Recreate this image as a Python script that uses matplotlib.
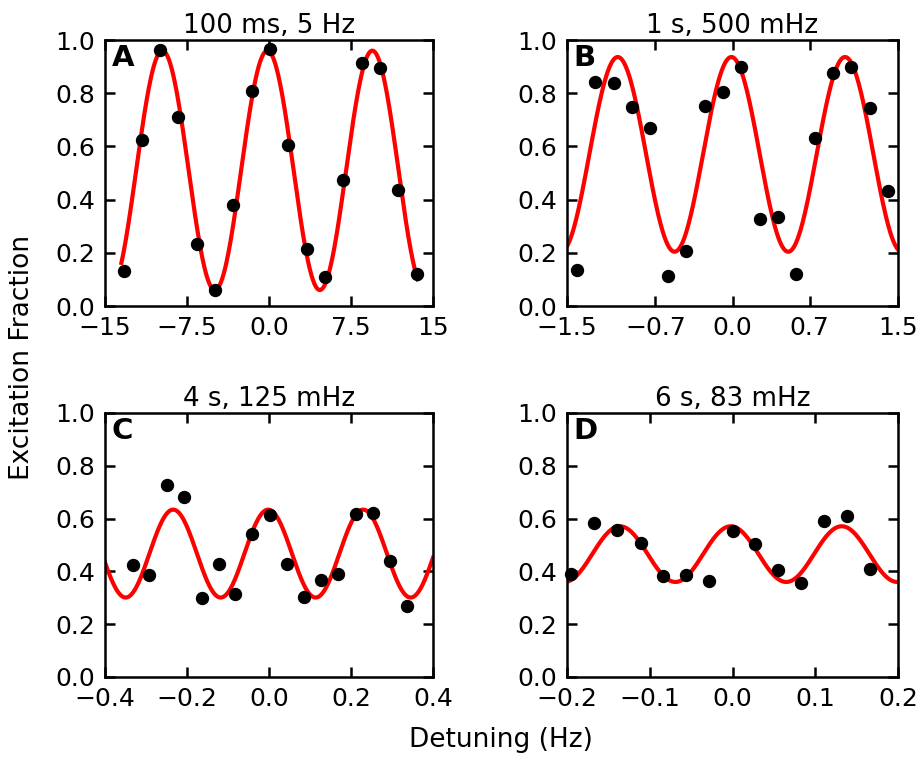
import numpy as np
import matplotlib
matplotlib.use("Agg")
import matplotlib.pyplot as plt

# panel A: 100 ms, 5 Hz
a_x = [-13.3, -11.64, -9.97, -8.29, -6.61, -4.94, -3.26, -1.58, 0.1,
       1.77, 3.45, 5.13, 6.8, 8.48, 10.16, 11.84, 13.52]
a_y = [0.133, 0.624, 0.962, 0.712, 0.233, 0.06, 0.38, 0.808, 0.967,
       0.605, 0.214, 0.108, 0.474, 0.912, 0.893, 0.436, 0.12]

# panel B: 1 s, 500 mHz
b_x = [-1.409, -1.243, -1.077, -0.911, -0.745, -0.585, -0.418, -0.252, -0.086,
       0.08, 0.246, 0.413, 0.579, 0.745, 0.911, 1.077, 1.243, 1.41]
b_y = [0.135, 0.843, 0.839, 0.747, 0.67, 0.114, 0.208, 0.751, 0.806,
       0.897, 0.326, 0.336, 0.12, 0.63, 0.877, 0.897, 0.743, 0.432]

# panel C: 4 s, 125 mHz
c_x = [-0.332, -0.292, -0.25, -0.207, -0.164, -0.122, -0.083, -0.041, 0.002,
       0.045, 0.086, 0.128, 0.169, 0.212, 0.254, 0.295, 0.337]
c_y = [0.426, 0.388, 0.729, 0.682, 0.301, 0.429, 0.313, 0.543, 0.612,
       0.429, 0.303, 0.366, 0.392, 0.619, 0.62, 0.44, 0.268]

# panel D: 6 s, 83 mHz
d_x = [-0.195, -0.167, -0.14, -0.111, -0.084, -0.056, -0.028, 0.0, 0.027,
       0.055, 0.083, 0.11, 0.138, 0.166]
d_y = [0.392, 0.585, 0.558, 0.509, 0.383, 0.385, 0.362, 0.553, 0.503,
       0.404, 0.357, 0.591, 0.61, 0.408]

# fitted fringes: offset, amplitude, period, centre, x range of the fit
a_fit = (0.51, 0.45, 9.6, -0.15, -13.5, 13.6)
b_fit = (0.57, 0.366, 1.03, -0.01, -1.5, 1.5)
c_fit = (0.4675, 0.1665, 0.2317, -0.002, -0.4, 0.4)
d_fit = (0.4655, 0.1055, 0.134, -0.002, -0.2, 0.2)

titles = ["100 ms, 5 Hz", "1 s, 500 mHz", "4 s, 125 mHz", "6 s, 83 mHz"]
letters = ["A", "B", "C", "D"]
xticks = [[-15, -7.5, 0, 7.5, 15], [-1.5, -0.7, 0, 0.7, 1.5],
          [-0.4, -0.2, 0, 0.2, 0.4], [-0.2, -0.1, 0, 0.1, 0.2]]
xticklabels = [["\u221215", "\u22127.5", "0.0", "7.5", "15"],
               ["\u22121.5", "\u22120.7", "0.0", "0.7", "1.5"],
               ["\u22120.4", "\u22120.2", "0.0", "0.2", "0.4"],
               ["\u22120.2", "\u22120.1", "0.0", "0.1", "0.2"]]
yticks = [0.0, 0.2, 0.4, 0.6, 0.8, 1.0]

plt.rcParams["font.family"] = "DejaVu Sans"
plt.rcParams["xtick.direction"] = "in"
plt.rcParams["ytick.direction"] = "in"
plt.rcParams["xtick.top"] = True
plt.rcParams["ytick.right"] = True

fig = plt.figure(figsize=(9.22, 7.58), dpi=100)
W, H = 922, 758
boxes = [(105, 40, 433, 306), (567, 40, 898, 306),
         (105, 413, 433, 677), (567, 413, 898, 677)]

panels = [(a_x, a_y, a_fit), (b_x, b_y, b_fit), (c_x, c_y, c_fit), (d_x, d_y, d_fit)]

for i, (xs, ys, fit) in enumerate(panels):
    l, t, r, b = boxes[i]
    ax = fig.add_axes([l / W, 1 - b / H, (r - l) / W, (b - t) / H])
    off, amp, per, cen, x0, x1 = fit
    xf = np.linspace(x0, x1, 600)
    ax.plot(xf, off + amp * np.cos(2 * np.pi * (xf - cen) / per), color="red", lw=3)
    ax.plot(xs, ys, "o", color="black", ms=8.6, mec="black", clip_on=False, zorder=3)
    lim = xticks[i][-1]
    ax.set_xlim(-lim, lim)
    ax.set_ylim(0, 1)
    ax.set_xticks(xticks[i])
    ax.set_xticklabels(xticklabels[i])
    ax.set_yticks(yticks)
    ax.set_yticklabels(["%.1f" % v for v in yticks])
    ax.tick_params(labelsize=18, length=7, width=1.8, pad=7)
    for s in ax.spines.values():
        s.set_linewidth(1.8)
    ax.set_title(titles[i], fontsize=18.8, pad=5)
    ax.text(0.02, 0.985, letters[i], transform=ax.transAxes, fontsize=21,
            fontweight="bold", ha="left", va="top")

fig.text(22 / W, 1 - 357 / H, "Excitation Fraction", rotation=90, fontsize=19,
         ha="center", va="center")
fig.text(501 / W, 1 - 740 / H, "Detuning (Hz)", fontsize=19, ha="center", va="center")

fig.savefig("out.png", dpi=100)
